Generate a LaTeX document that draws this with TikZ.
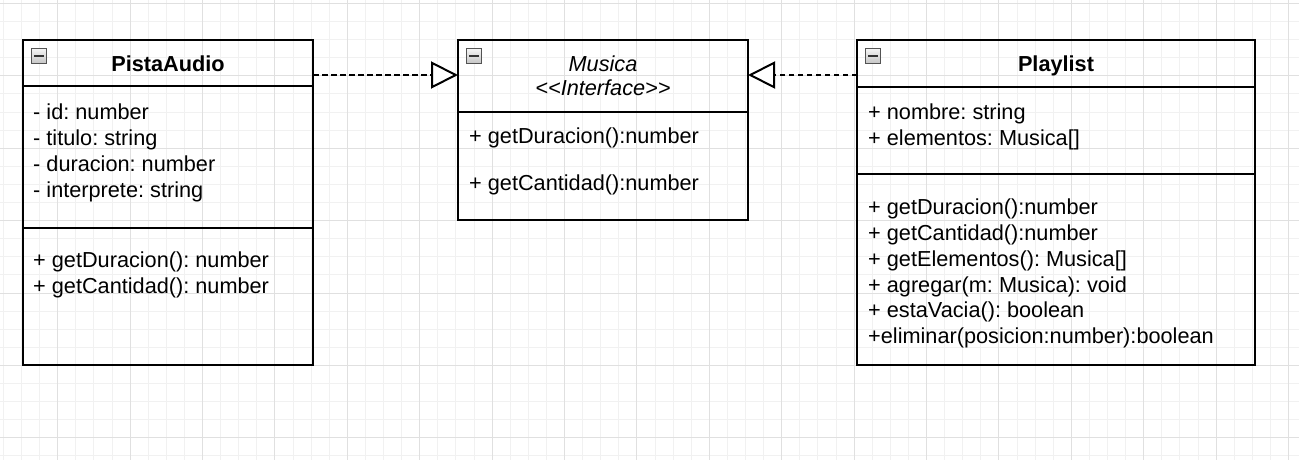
\documentclass[tikz,border=0pt]{standalone}
\usepackage{fontspec}
\setmainfont{Liberation Sans}
\usetikzlibrary{arrows.meta,positioning}
\definecolor{gridminor}{HTML}{F1F1F1}
\definecolor{gridmajor}{HTML}{E0E0E0}
\frenchspacing

\begin{document}
\begin{tikzpicture}[x=1pt,y=-1pt,
  compart/.style={draw,line width=2pt,inner sep=0pt,outer sep=0pt,anchor=north west},
  classname/.style={anchor=base,inner sep=0pt,font=\fontsize{21.7}{26}\selectfont},
  member/.style={anchor=base west,inner sep=0pt,font=\fontsize{21.7}{26}\selectfont},
  foldicon/.style={draw=gray!65!black,line width=0.8pt,top color=gray!8,bottom color=gray!45,
    minimum size=15pt,inner sep=0pt,anchor=north west,
    path picture={\fill[black!80] ([shift={(3,6.2)}]path picture bounding box.north west) rectangle ++(9.5,2.6);}},
  realize/.style={line width=2pt,dash pattern=on 5.5pt off 3.5pt,
    -{Triangle[length=27pt,width=27pt,fill=white]}}]
\useasboundingbox (0,0) rectangle (1299,460);
% background grid
\begin{scope}
\clip (0,0) rectangle (1299,460);
\foreach \k in {0,...,71} \draw[gridminor,line width=1pt] ({3.4+18.1*\k},0) -- ++(0,460);
\foreach \k in {0,...,25} \draw[gridminor,line width=1pt] (0,{3.4+18.1*\k}) -- ++(1299,0);
\foreach \k in {0,...,18} \draw[gridmajor,line width=1pt] ({-14.7+72.4*\k},0) -- ++(0,460);
\foreach \k in {0,...,6} \draw[gridmajor,line width=1pt] (0,{3.4+72.4*\k}) -- ++(1299,0);
\end{scope}

% PistaAudio
\node[compart,minimum width=290pt,minimum height=46pt] (pista) at (23,40) {};
\node[compart,minimum width=290pt,minimum height=142pt,below=0pt of pista] (pistaAttrs) {};
\node[compart,minimum width=290pt,minimum height=137pt,below=0pt of pistaAttrs] (pistaOps) {};
\node[foldicon] (pistaIcon) at ([shift={(8,8)}]pista.north west) {};
\node[classname] (pistaName) at (168,71.7) {\bfseries PistaAudio};
\foreach \txt [count=\i from 0] in {- id: number,- titulo: string,- duracion: number,- interprete: string}
  \node[member] (pistaAttr\i) at (33,119.7+26*\i) {\txt};
\foreach \txt [count=\i from 0] in {+ getDuracion(): number,+ getCantidad(): number}
  \node[member] (pistaOp\i) at (33,267.6+26*\i) {\txt};

% Musica
\node[compart,minimum width=290pt,minimum height=72pt] (musica) at (458,40) {};
\node[compart,minimum width=290pt,minimum height=108pt,below=0pt of musica] (musicaOps) {};
\node[foldicon] (musicaIcon) at ([shift={(8,8)}]musica.north west) {};
\node[classname] (musicaName) at (603,71.7) {\itshape Musica};
\node[classname] (musicaStereo) at (603,95.7) {\itshape {<}{<}Interface{>}{>}};
\node[member] (musicaOp0) at (469,143.3) {+ getDuracion():number};
\node[member] (musicaOp1) at (469,190.3) {+ getCantidad():number};

% Playlist
\node[compart,minimum width=398pt,minimum height=47pt] (play) at (857,40) {};
\node[compart,minimum width=398pt,minimum height=87pt,below=0pt of play] (playAttrs) {};
\node[compart,minimum width=398pt,minimum height=191pt,below=0pt of playAttrs] (playOps) {};
\node[foldicon] (playIcon) at ([shift={(8,8)}]play.north west) {};
\node[classname] (playName) at (1056,71.7) {\bfseries Playlist};
\foreach \txt [count=\i from 0] in {+ nombre: string,+ elementos: Musica[]}
  \node[member] (playAttr\i) at (868,119.7+26*\i) {\txt};
\foreach \txt [count=\i from 0] in {+ getDuracion():number,+ getCantidad():number,+ getElementos(): Musica[],
    + agregar(m: Musica): void,+ estaVacia(): boolean,+eliminar(posicion:number):boolean}
  \node[member] (playOp\i) at (868,214.3+25.9*\i) {\txt};

% realizations
\draw[realize] ([yshift=-35pt]pista.north east) -- ([yshift=-35pt]musica.north west);
\draw[realize] ([yshift=-35pt]play.north west) -- ([yshift=-35pt]musica.north east);
\end{tikzpicture}
\end{document}
